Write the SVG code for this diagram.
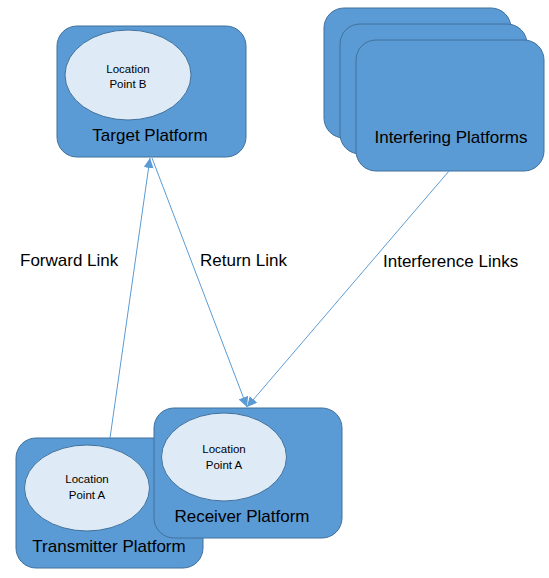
<svg xmlns="http://www.w3.org/2000/svg" width="549" height="578" viewBox="0 0 549 578">
<style>
.box{fill:#5B9BD5;stroke:#41719C;stroke-width:1}
.ell{fill:#DEEBF7;stroke:#41719C;stroke-width:1}
.t{font-family:"Liberation Sans",Arial,sans-serif;fill:#000;text-anchor:middle}
.big{font-size:17px}
.small{font-size:11.5px}
.lbl{font-family:"Liberation Sans",Arial,sans-serif;font-size:17px;fill:#000}
.ln{stroke:#5B9BD5;stroke-width:1;fill:none}
</style>
<defs>
<marker id="ah" markerUnits="userSpaceOnUse" markerWidth="12" markerHeight="10" refX="10" refY="5" orient="auto">
<path d="M0,0 L10,5 L0,10 z" fill="#5B9BD5"/>
</marker>
</defs>
<rect width="549" height="578" fill="#fff"/>
<g id="interfering">
<rect class="box" x="324" y="8" width="187" height="130" rx="20"/>
<rect class="box" x="340" y="24" width="187" height="130" rx="20"/>
<rect class="box" x="356" y="40" width="188" height="131" rx="20"/>
<text class="t big" x="451" y="143">Interfering Platforms</text>
</g>
<g id="target">
<rect class="box" x="57" y="26" width="189" height="131" rx="20"/>
<ellipse class="ell" cx="128" cy="75" rx="63" ry="45"/>
<text class="t small" x="128" y="72.5">Location</text>
<text class="t small" x="128" y="88">Point B</text>
<text class="t big" x="150" y="141">Target Platform</text>
</g>
<g id="transmitter">
<rect class="box" x="16" y="438" width="187" height="130" rx="20"/>
<ellipse class="ell" cx="87" cy="488" rx="62.5" ry="43"/>
<text class="t small" x="87" y="483">Location</text>
<text class="t small" x="87" y="499">Point A</text>
<text class="t big" x="109" y="552">Transmitter Platform</text>
</g>
<g id="receiver">
<rect class="box" x="154" y="408" width="188" height="130" rx="20"/>
<ellipse class="ell" cx="224" cy="457" rx="62.5" ry="44"/>
<text class="t small" x="224" y="453">Location</text>
<text class="t small" x="224" y="469">Point A</text>
<text class="t big" x="242" y="522">Receiver Platform</text>
</g>
<g id="connectors">
<line class="ln" x1="110" y1="438" x2="150" y2="158" marker-end="url(#ah)"/>
<line class="ln" x1="152" y1="158" x2="247" y2="407" marker-end="url(#ah)"/>
<line class="ln" x1="449" y1="171" x2="247" y2="407" marker-end="url(#ah)"/>
<text class="lbl" x="20" y="266">Forward Link</text>
<text class="lbl" x="200" y="266">Return Link</text>
<text class="lbl" x="383" y="267">Interference Links</text>
</g>
</svg>
